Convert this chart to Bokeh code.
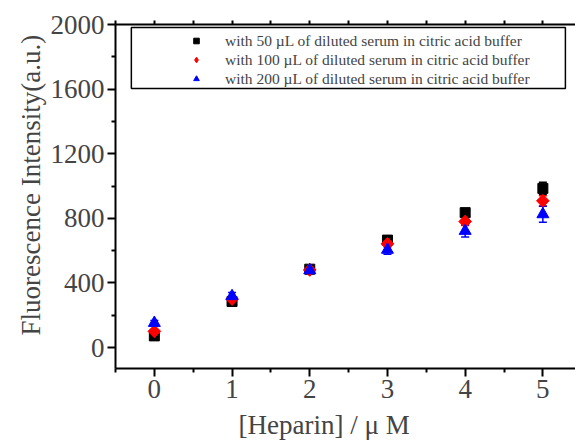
import math
from bokeh.plotting import figure
from bokeh.models import (Range1d, Whisker, ColumnDataSource, Legend, LegendItem,
                          LinearAxis, FixedTicker, BoxAnnotation, Title)
from bokeh.embed import file_html
from bokeh.resources import INLINE

x = [0, 1, 2, 3, 4, 5]
y50 = [72, 285, 485, 665, 835, 985]
e50 = [12, 12, 15, 15, 25, 38]
y100 = [100, 300, 480, 642, 780, 908]
e100 = [12, 15, 15, 20, 25, 32]
y200 = [152, 318, 478, 605, 722, 825]
e200 = [15, 22, 20, 28, 38, 50]
labels = ["with 50 \u00b5L of diluted serum in citric acid buffer",
          "with 100 \u00b5L of diluted serum in citric acid buffer",
          "with 200 \u00b5L of diluted serum in citric acid buffer"]
x_ticks = [0, 1, 2, 3, 4, 5]
x_minor = [-0.5, 0.5, 1.5, 2.5, 3.5, 4.5, 5.5]
y_ticks = [0, 400, 800, 1200, 1600, 2000]
y_minor = [200, 600, 1000, 1400, 1800]
FONT = "Liberation Serif"

p = figure(width=575, height=446, output_backend="svg", toolbar_location=None,
           x_range=Range1d(-0.5, 5.42), y_range=Range1d(-130, 2000),
           min_border_left=115, min_border_top=24, min_border_bottom=73, min_border_right=0)
p.outline_line_color = None
p.grid.visible = False
p.background_fill_color = "white"

for ax in [p.xaxis[0], p.yaxis[0]]:
    ax.axis_line_width = 2
    ax.major_tick_line_width = 2
    ax.minor_tick_line_width = 2
    ax.major_tick_in = 0
    ax.major_tick_out = 8
    ax.minor_tick_in = 0
    ax.minor_tick_out = 4
    ax.major_label_text_font = FONT
    ax.major_label_text_font_size = "27px"
    ax.major_label_standoff = 3
p.xaxis.ticker = FixedTicker(ticks=x_ticks, minor_ticks=x_minor)
p.yaxis.ticker = FixedTicker(ticks=y_ticks, minor_ticks=y_minor)

top = LinearAxis(ticker=FixedTicker(ticks=[], minor_ticks=x_ticks + x_minor))
top.axis_line_width = 2
top.minor_tick_line_width = 2
top.minor_tick_in = 0
top.minor_tick_out = 4
p.add_layout(top, "above")

p.add_layout(Title(text="[Heparin] / \u03bc M", align="left", offset=123,
                   text_font=FONT, text_font_size="27px", text_font_style="normal",
                   standoff=14), "below")
p.add_layout(Title(text="Fluorescence Intensity(a.u.)", align="left", offset=33,
                   text_font=FONT, text_font_size="27px", text_font_style="normal",
                   standoff=4), "left")

# legend frame
p.add_layout(BoxAnnotation(left=-0.296, right=5.29, bottom=1604, top=1981,
                           fill_color="white", fill_alpha=1,
                           line_color="black", line_alpha=1, line_width=1.5,
                           level="overlay"))

series = [(y50, e50, "black", "square", 10, 0),
          (y100, e100, "red", "square", 9, math.pi / 4),
          (y200, e200, "blue", "triangle", 12, 0)]
items = []
for (yy, ee, col, mk, sz, ang), lab in zip(series, labels):
    src = ColumnDataSource(dict(x=x, y=yy, lo=[a - b for a, b in zip(yy, ee)],
                                hi=[a + b for a, b in zip(yy, ee)]))
    w = Whisker(base="x", lower="lo", upper="hi", source=src, line_color=col, line_width=1.5)
    for h in (w.upper_head, w.lower_head):
        h.size = 8
        h.line_color = col
        h.line_width = 1.5
    p.add_layout(w)
    if ang:
        # diamond drawn beneath the rotated square, used as the legend swatch
        lr = p.scatter("x", "y", source=src, marker="diamond", size=12,
                       fill_color=col, line_color=col)
        p.scatter("x", "y", source=src, marker=mk, size=sz, angle=ang,
                  fill_color=col, line_color=col)
    else:
        lr = p.scatter("x", "y", source=src, marker=mk, size=sz,
                       fill_color=col, line_color=col)
    items.append(LegendItem(label=lab, renderers=[lr]))

leg = Legend(items=items, location=(74, 280), label_text_font=FONT,
             label_text_font_size="15.5px", border_line_color=None,
             background_fill_alpha=0, padding=2, spacing=0, label_standoff=22,
             margin=0, glyph_width=14, glyph_height=19, label_height=19)
p.add_layout(leg)

open("out.html", "w").write(file_html(p, INLINE))
